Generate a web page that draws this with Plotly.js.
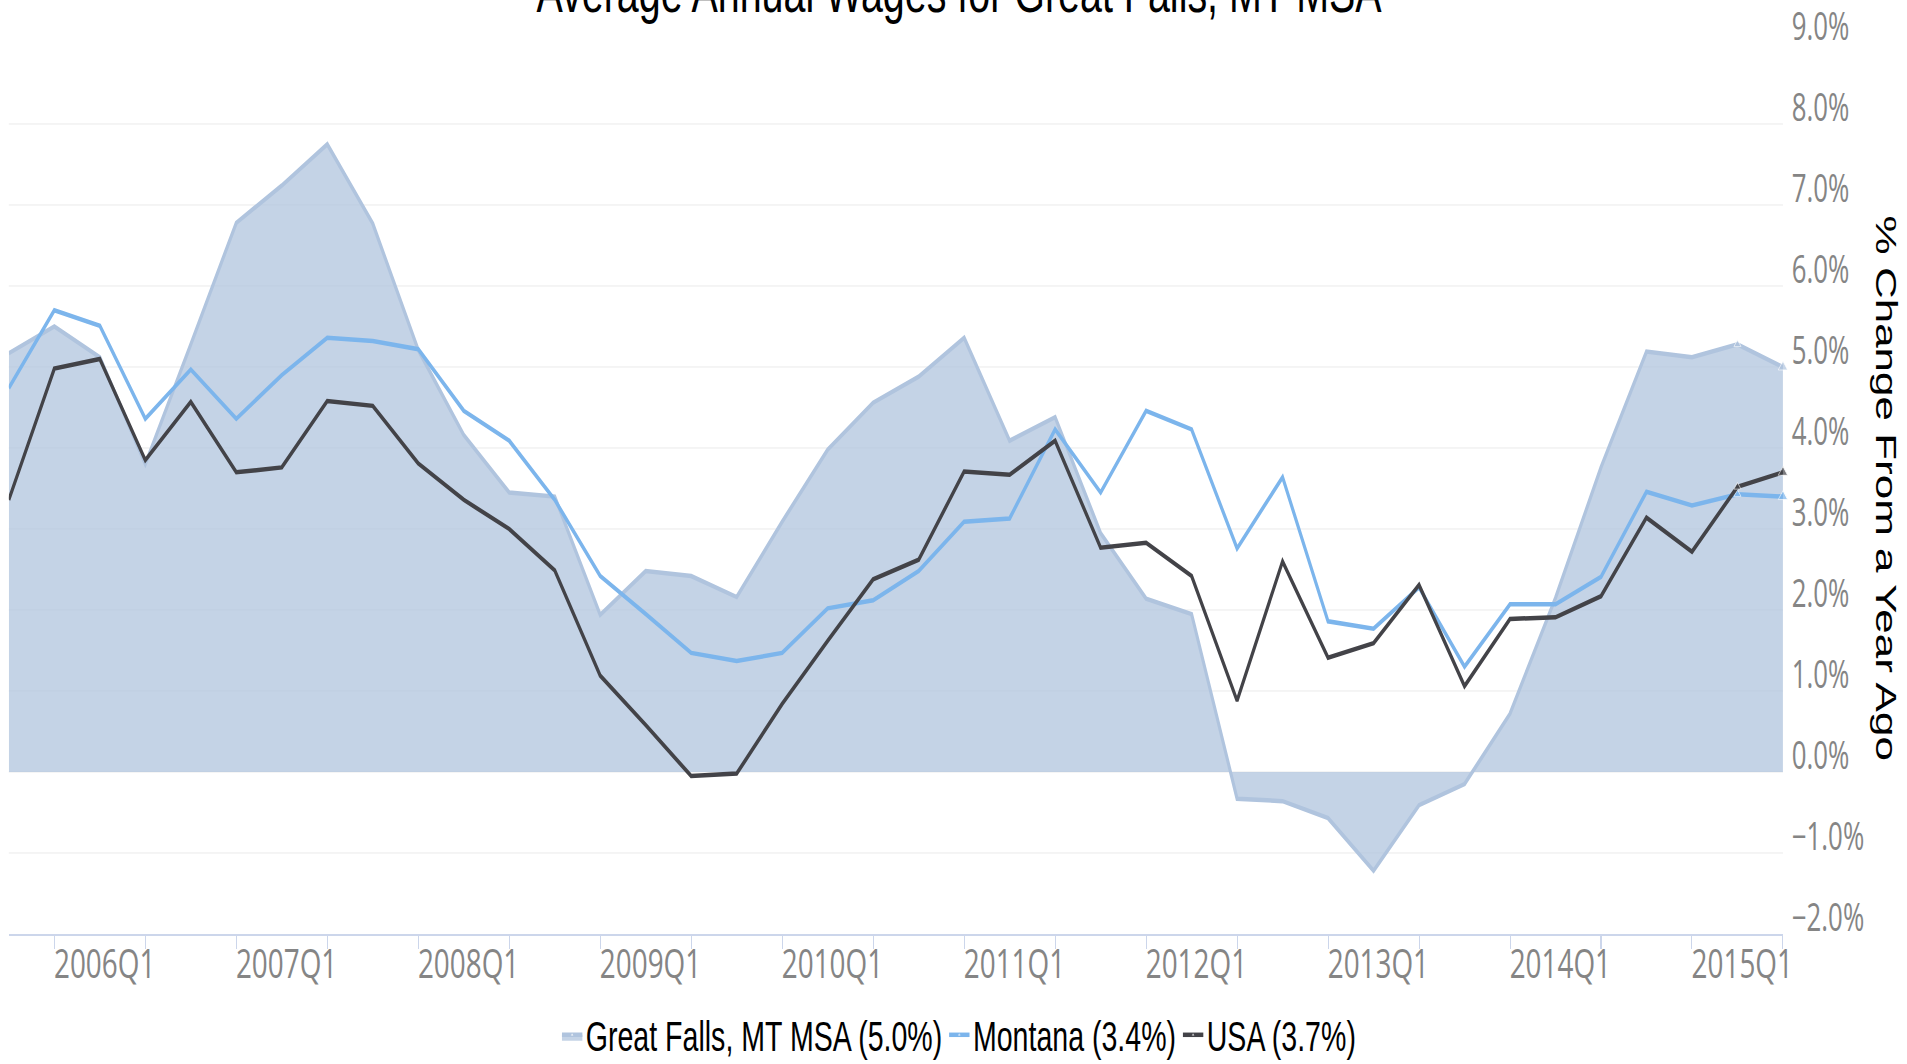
<!DOCTYPE html>
<html>
<head>
<meta charset="utf-8">
<script src="https://cdn.plot.ly/plotly-3.0.1.min.js"></script>
<style>
html,body{margin:0;padding:0;overflow:hidden;background:#ffffff;width:1907px;height:1064px;}
#chart{height:1064px;transform-origin:0 0;}
</style>
</head>
<body>
<div id="chart"></div>
<script>
// ---- data ----
const categories = ["2005Q4",
  "2006Q1","2006Q2","2006Q3","2006Q4",
  "2007Q1","2007Q2","2007Q3","2007Q4",
  "2008Q1","2008Q2","2008Q3","2008Q4",
  "2009Q1","2009Q2","2009Q3","2009Q4",
  "2010Q1","2010Q2","2010Q3","2010Q4",
  "2011Q1","2011Q2","2011Q3","2011Q4",
  "2012Q1","2012Q2","2012Q3","2012Q4",
  "2013Q1","2013Q2","2013Q3","2013Q4",
  "2014Q1","2014Q2","2014Q3","2014Q4",
  "2015Q1","2015Q2","2015Q3"];

const greatFalls = [5.17, 5.50, 5.12, 3.80, 5.28, 6.78, 7.24, 7.75, 6.77, 5.21,
                    4.16, 3.45, 3.40, 1.94, 2.48, 2.42, 2.16, 3.09, 3.98, 4.56,
                    4.88, 5.36, 4.09, 4.38, 2.95, 2.14, 1.95, -0.33, -0.36, -0.57,
                    -1.22, -0.41, -0.15, 0.72, 2.15, 3.76, 5.19, 5.12, 5.28, 5.00];

const montana =    [4.74, 5.70, 5.51, 4.36, 4.97, 4.36, 4.90, 5.36, 5.32, 5.22,
                    4.46, 4.09, 3.36, 2.42, 1.95, 1.47, 1.37, 1.47, 2.02, 2.12,
                    2.48, 3.09, 3.13, 4.23, 3.45, 4.46, 4.23, 2.76, 3.64, 1.86,
                    1.77, 2.28, 1.30, 2.07, 2.07, 2.41, 3.46, 3.29, 3.43, 3.40];

const usa =        [3.36, 4.98, 5.10, 3.85, 4.57, 3.70, 3.76, 4.58, 4.52, 3.81,
                    3.36, 3.00, 2.49, 1.19, 0.58, -0.05, -0.02, 0.84, 1.62, 2.38,
                    2.62, 3.71, 3.67, 4.09, 2.77, 2.83, 2.42, 0.88, 2.60, 1.41,
                    1.59, 2.31, 1.06, 1.89, 1.91, 2.17, 3.14, 2.72, 3.52, 3.70];

const seriesNames = ["Great Falls, MT MSA (5.0%)", "Montana (3.4%)", "USA (3.7%)"];
const chartTitle = "Average Annual Wages for Great Falls, MT MSA";
const yAxisTitle = "% Change From a Year Ago";
const yTickValues = [-2, -1, 0, 1, 2, 3, 4, 5, 6, 7, 8, 9];

// ---- layout helpers (horizontal squeeze of the whole drawing) ----
const SX = 0.68;
const W = Math.round(1907 / SX);
const H = 1064;
const el = document.getElementById('chart');
el.style.width = W + 'px';
el.style.transform = 'scaleX(' + SX + ')';

const xIdx = categories.map((c, i) => i);
const last = categories.length - 1;
const q1Idx = xIdx.filter(i => categories[i].endsWith('Q1'));
const q3Idx = xIdx.filter(i => categories[i].endsWith('Q3'));
const markerSizes = xIdx.map(i => i === last ? 12 : (i === last - 1 ? 9 : 0));

const plotLeft = Math.round(9 / SX);
const plotRight = Math.round(1783 / SX);
const marginR = W - plotRight;
const plotW = plotRight - plotLeft;

const traces = [
  {
    x: xIdx, y: greatFalls, name: seriesNames[0], type: 'scatter',
    mode: 'lines+markers', fill: 'tozeroy',
    fillcolor: 'rgba(176,196,222,0.75)',
    line: {color: '#b0c4de', width: 4.5},
    marker: {symbol: 'triangle-up', size: markerSizes, color: '#b0c4de'},
    cliponaxis: false
  },
  {
    x: xIdx, y: montana, name: seriesNames[1], type: 'scatter',
    mode: 'lines+markers',
    line: {color: '#7cb5ec', width: 4.5},
    marker: {symbol: 'triangle-up', size: markerSizes, color: '#7cb5ec'},
    cliponaxis: false
  },
  {
    x: xIdx, y: usa, name: seriesNames[2], type: 'scatter',
    mode: 'lines+markers',
    line: {color: '#434348', width: 4.5},
    marker: {symbol: 'triangle-up', size: markerSizes, color: '#434348'},
    cliponaxis: false
  }
];

const layout = {
  width: W, height: H,
  paper_bgcolor: '#ffffff', plot_bgcolor: '#ffffff',
  margin: {l: plotLeft, r: marginR, t: 43, b: 130, pad: 0},
  showlegend: true,
  title: {
    text: chartTitle,
    font: {family: 'Liberation Sans, Arial, sans-serif', size: 58, color: '#000000'},
    xref: 'container', x: 0.503, xanchor: 'center',
    yref: 'container', y: 1 - 12 / H, yanchor: 'bottom'
  },
  xaxis: {
    type: 'linear', range: [0, last], fixedrange: true,
    showgrid: false, zeroline: false,
    showline: true, linecolor: '#ccd6eb', linewidth: 2,
    tickmode: 'array', tickvals: q1Idx, ticktext: q1Idx.map(i => categories[i]),
    ticks: 'outside', ticklen: 13, tickwidth: 1.5, tickcolor: '#ccd6eb',
    ticklabelshift: 74, ticklabelstandoff: -20, ticklabeloverflow: 'allow',
    tickfont: {family: 'Open Sans, sans-serif', size: 41, color: '#858585'},
    minor: {tickmode: 'array', tickvals: q3Idx, ticks: 'outside', ticklen: 13,
            tickwidth: 1.5, tickcolor: '#ccd6eb', showgrid: false}
  },
  yaxis: {
    side: 'right', range: [-2, 9], fixedrange: true,
    tickmode: 'array', tickvals: yTickValues,
    ticktext: yTickValues.map(v => (v < 0 ? '\u2212' : '') + Math.abs(v).toFixed(1) + '%'),
    showgrid: true, gridcolor: '#e6e6e6', gridwidth: 1,
    zeroline: false, showline: false, ticks: '',
    ticklabelshift: -16, ticklabelstandoff: 12, ticklabeloverflow: 'allow',
    tickfont: {family: 'Open Sans, sans-serif', size: 38, color: '#858585'}
  },
  legend: {
    orientation: 'h',
    xref: 'container', x: 0.503, xanchor: 'center',
    yref: 'container', y: 1 - 1035 / H, yanchor: 'middle',
    font: {family: 'Liberation Sans, Arial, sans-serif', size: 42, color: '#000000'},
    itemwidth: 30, traceorder: 'normal', bgcolor: 'rgba(0,0,0,0)'
  },
  annotations: [{
    text: yAxisTitle, textangle: 90, showarrow: false,
    xref: 'paper', x: (Math.round(1886 / SX) - plotLeft) / plotW, xanchor: 'center',
    yref: 'paper', y: 0.5, yanchor: 'middle',
    font: {family: 'Liberation Sans, Arial, sans-serif', size: 44, color: '#000000'}
  }]
};

Plotly.newPlot(el, traces, layout, {displayModeBar: false, responsive: false, staticPlot: true});
</script>
</body>
</html>
